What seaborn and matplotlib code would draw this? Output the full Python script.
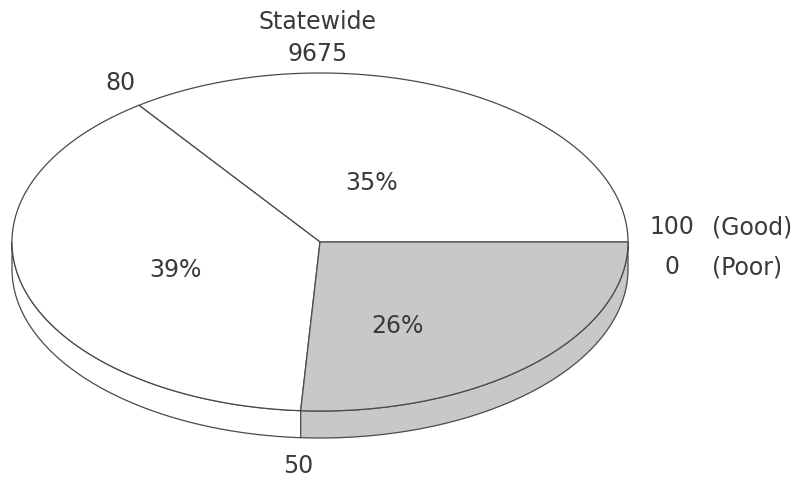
import numpy as np
import matplotlib
matplotlib.use("Agg")
import matplotlib.pyplot as plt
import seaborn as sns

# Slice shares, drawn counter-clockwise from the 3 o'clock position
shares = [35, 39, 26]
share_labels = ["35%", "39%", "26%"]
slice_colors = ["#ffffff", "#ffffff", "#c8c8c8"]

title_lines = ["Statewide", "9675"]
scale_numbers = ["100", "0"]
scale_words = ["(Good)", "(Poor)"]
boundary_labels = ["80", "50"]

sns.set_theme(style="white")
plt.rcParams["font.family"] = ["DejaVu Sans"]

W, H = 798, 480
fig = plt.figure(figsize=(W / 100, H / 100), dpi=100)
ax = fig.add_axes([0, 0, 1, 1])
ax.set_xlim(0, W)
ax.set_ylim(H, 0)
ax.axis("off")

cx, cy = 320.0, 242.0   # ellipse centre
a, b = 308.0, 169.0     # semi-axes of the top face
depth = 27.0            # thickness of the disc
edge = "#4a4a4a"
lw = 0.9


def arc(t0, t1, dy=0.0, n=200):
    t = np.radians(np.linspace(t0, t1, n))
    return cx + a * np.cos(t), cy - b * np.sin(t) + dy


bounds = np.concatenate([[0], np.cumsum(shares)]) * 3.6

# side wall (only the front half, 180..360 degrees, is visible)
for i, col in enumerate(slice_colors):
    t0, t1 = max(bounds[i], 180), min(bounds[i + 1], 360)
    if t1 <= t0:
        continue
    xt, yt = arc(t0, t1)
    xb, yb = arc(t0, t1, depth)
    xs = np.concatenate([xt, xb[::-1]])
    ys = np.concatenate([yt, yb[::-1]])
    ax.fill(xs, ys, facecolor=col, edgecolor=edge, linewidth=lw, zorder=1)

# top face slices
for i, col in enumerate(slice_colors):
    xa, ya = arc(bounds[i], bounds[i + 1])
    xs = np.concatenate([[cx], xa, [cx]])
    ys = np.concatenate([[cy], ya, [cy]])
    ax.fill(xs, ys, facecolor=col, edgecolor=edge, linewidth=lw, zorder=2)

fs = 17
txt = dict(fontsize=fs, color="#3a3a3a", ha="center", va="center")

# percentage labels
for lab, (x, y) in zip(share_labels, [(372, 183), (175, 270), (397, 326)]):
    ax.text(x, y, lab, **txt)

# title above the disc
ax.text(318, 22, title_lines[0], **txt)
ax.text(318, 54, title_lines[1], **txt)

# scale markers around the rim
ax.text(120, 83, boundary_labels[0], **txt)
ax.text(298, 466, boundary_labels[1], **txt)
for k, y in enumerate([227, 267]):
    ax.text(672, y, scale_numbers[k], **txt)
    ax.text(712, y, scale_words[k], fontsize=fs, color="#3a3a3a",
            ha="left", va="center")

fig.savefig("out.png", dpi=100, facecolor="white")
